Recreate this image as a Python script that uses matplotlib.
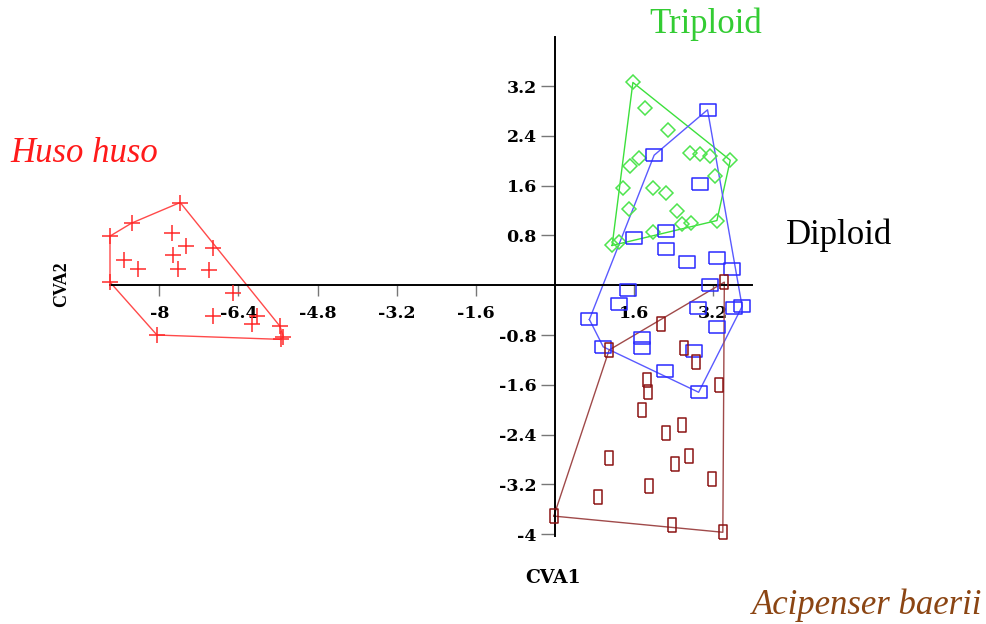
#!/usr/bin/env python3
"""CVA scatter of sturgeon groups with convex hulls (PAST-style plot)."""

import numpy as np
import matplotlib.pyplot as plt

# ── Data (CVA1, CVA2 scores) ─────────────────────────────────────────────────
huso_x = [-7.58, -8.56, -9.00, -7.75, -7.46, -6.92, -7.72, -8.71, -8.44, -7.62,
          -7.00, -9.00, -6.51, -6.92, -6.03, -6.13, -5.56, -8.05, -5.49, -5.54]
huso_y = [1.33, 1.00, 0.79, 0.84, 0.63, 0.60, 0.48, 0.41, 0.26, 0.26,
          0.25, 0.05, -0.12, -0.49, -0.50, -0.63, -0.66, -0.80, -0.83, -0.87]

trip_x = [1.58, 1.83, 2.30, 1.71, 1.53, 2.74, 2.93, 3.15, 3.55, 3.25,
          1.38, 1.98, 2.24, 1.51, 2.47, 2.57, 2.76, 3.28, 1.99, 1.16, 1.30]
trip_y = [3.26, 2.85, 2.49, 2.05, 1.92, 2.12, 2.11, 2.08, 2.01, 1.75,
          1.57, 1.57, 1.48, 1.23, 1.19, 0.99, 1.00, 1.04, 0.86, 0.64, 0.70]

dipl_x = [3.09, 2.01, 2.93, 1.60, 2.24, 2.24, 2.68, 3.28, 3.59, 3.15, 1.49, 1.29,
          2.90, 3.62, 3.79, 3.28, 0.70, 0.98, 1.77, 1.77, 2.81, 2.22, 2.91]
dipl_y = [2.82, 2.09, 1.63, 0.76, 0.88, 0.58, 0.38, 0.44, 0.26, 0.01, -0.07, -0.30,
          -0.37, -0.37, -0.34, -0.67, -0.55, -0.99, -0.85, -1.01, -1.05, -1.38, -1.72]

baer_x = [3.43, 2.14, 1.10, 2.61, 2.86, 1.87, 1.88, 3.32, 1.77, 2.57,
          2.24, 1.10, 2.44, 2.71, 3.18, 1.91, 0.87, -0.02, 2.38, 3.40]
baer_y = [0.05, -0.63, -1.04, -1.01, -1.24, -1.52, -1.72, -1.61, -2.00, -2.25,
          -2.38, -2.78, -2.87, -2.75, -3.12, -3.22, -3.41, -3.71, -3.86, -3.97]

x_ticks = [-8, -6.4, -4.8, -3.2, -1.6, 1.6, 3.2]
y_ticks = [3.2, 2.4, 1.6, 0.8, -0.8, -1.6, -2.4, -3.2, -4]


def convex_hull(xs, ys):
    pts = sorted(set(zip(xs, ys)))

    def cross(o, a, b):
        return (a[0] - o[0]) * (b[1] - o[1]) - (a[1] - o[1]) * (b[0] - o[0])

    lower, upper = [], []
    for p in pts:
        while len(lower) >= 2 and cross(lower[-2], lower[-1], p) <= 0:
            lower.pop()
        lower.append(p)
    for p in reversed(pts):
        while len(upper) >= 2 and cross(upper[-2], upper[-1], p) <= 0:
            upper.pop()
        upper.append(p)
    hull = lower[:-1] + upper[:-1]
    hull.append(hull[0])
    return np.array(hull)


plt.rcParams['font.family'] = ['Liberation Serif', 'DejaVu Serif']
plt.rcParams['axes.unicode_minus'] = False
WIDE = ['DejaVu Serif']   # wide bold serif, close to the stretched labels

fig = plt.figure(figsize=(9.87, 6.24), dpi=100)
ax = fig.add_axes([110 / 987, 1 - 536 / 624, 642 / 987, 499 / 624])

# wide / tall rectangle markers
wide_rect = [(-1, -0.76), (1, -0.76), (1, 0.76), (-1, 0.76), (-1, -0.76)]
tall_rect = [(-0.64, -1), (0.64, -1), (0.64, 1), (-0.64, 1), (-0.64, -1)]

groups = [
    (huso_x, huso_y, '+', 12, '#ff2a2a', '#ff4a4a'),
    (trip_x, trip_y, 'D', 7.6, '#4ee44e', '#3ce03c'),
    (dipl_x, dipl_y, wide_rect, 12.2, '#2a2aff', '#5a5aff'),
    (baer_x, baer_y, tall_rect, 10, '#8b1414', '#a04a4a'),
]
for gx, gy, mk, ms, mc, lc in groups:
    h = convex_hull(gx, gy)
    ax.plot(h[:, 0], h[:, 1], color=lc, lw=1.0, zorder=2, clip_on=False)
    ax.plot(gx, gy, ls='none', marker=mk, ms=ms, mfc='none', mec=mc,
            mew=1.1, zorder=3, clip_on=False)

ax.set_xlim(-9.0, 3.99)
ax.set_ylim(-4.03, 3.99)

for side in ('top', 'right'):
    ax.spines[side].set_visible(False)
ax.spines['left'].set_position(('data', 0))
ax.spines['bottom'].set_position(('data', 0))
ax.spines['left'].set_linewidth(1.4)
ax.spines['bottom'].set_linewidth(1.4)

ax.set_xticks(x_ticks)
ax.set_xticklabels([f'{t:g}' for t in x_ticks])
ax.set_yticks(y_ticks)
ax.set_yticklabels([f'{t:g}' for t in y_ticks])
ax.tick_params(axis='x', direction='out', length=8, width=1, color='#777777',
               pad=6)
ax.tick_params(axis='y', direction='out', length=10, width=1, color='#777777',
               pad=3)
for lbl in ax.get_xticklabels() + ax.get_yticklabels():
    lbl.set_fontweight('bold')
    lbl.set_family(WIDE)
    lbl.set_fontsize(12.5)
ax.patch.set_alpha(0)

fig.text(553 / 987, 1 - 578 / 624, 'CVA1', fontsize=13.5, fontweight='bold',
         family=WIDE, ha='center', va='center')
fig.text(62 / 987, 1 - 284 / 624, 'CVA2', fontsize=13, fontweight='bold',
         ha='center', va='center', rotation=90)

fig.text(10 / 987, 1 - 154 / 624, 'Huso huso', fontsize=25, style='italic',
         color='#ff1a1a', ha='left', va='center')
fig.text(706 / 987, 1 - 24 / 624, 'Triploid', fontsize=25, color='#33cc33',
         ha='center', va='center')
fig.text(786 / 987, 1 - 235 / 624, 'Diploid', fontsize=25, color='black',
         ha='left', va='center')
fig.text(982 / 987, 1 - 605 / 624, 'Acipenser baerii', fontsize=25,
         style='italic', color='#8b4513', ha='right', va='center')

fig.savefig('out.png', dpi=100)
